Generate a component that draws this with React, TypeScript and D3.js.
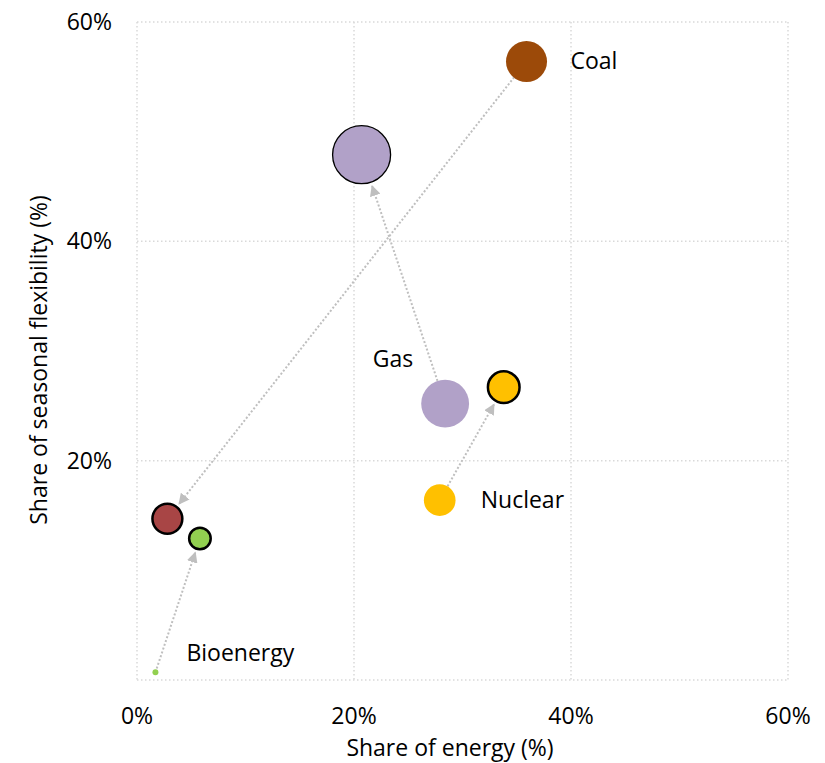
import React from "react";
import * as d3 from "d3";

const categories = ["Bioenergy", "Coal", "Gas", "Nuclear"];
const startEnergy = [1.7, 35.9, 28.4, 27.9];
const startFlex = [0.7, 56.4, 25.2, 16.4];
const startSize = [1, 47, 64, 28];
const endEnergy = [5.8, 2.8, 20.7, 33.8];
const endFlex = [12.9, 14.7, 47.9, 26.7];
const endSize = [13, 25, 94, 28];
const startColors = ["#92d050", "#9c4a09", "#b1a1c8", "#ffc000"];
const endColors = ["#92d050", "#a84545", "#b1a1c8", "#ffc000"];
const xTicks = [0, 20, 40, 60];
const yTicks = [20, 40, 60];
const gridTicks = [0, 20, 40, 60];

const W = 825;
const H = 763;
const FONT = "'Open Sans', 'Noto Sans', sans-serif";
const FS = 23;

export default function App() {
  const x = d3.scaleLinear().domain([0, 60]).range([137, 788]);
  const y = d3.scaleLinear().domain([0, 60]).range([680, 22]);
  const r = d3.scaleSqrt().domain([0, 94]).range([0, 29]);

  const labelPos: Record<string, { dx: number; dy: number; anchor: string }> = {
    Bioenergy: { dx: 31, dy: -19, anchor: "start" },
    Coal: { dx: 44, dy: 0, anchor: "start" },
    Gas: { dx: -32, dy: -45, anchor: "end" },
    Nuclear: { dx: 41, dy: 0, anchor: "start" },
  };

  return (
    <svg width={W} height={H} style={{ position: "absolute", left: 0, top: 0, background: "#fff" }}>
      <defs>
        <marker id="arr" viewBox="0 0 10 10" refX="9" refY="5" markerWidth="5.5" markerHeight="5.5" orient="auto">
          <path d="M0,0 L10,5 L0,10 z" fill="#bfbfbf" />
        </marker>
      </defs>
      {gridTicks.map((t) => (
        <line key={"gx" + t} x1={x(t)} x2={x(t)} y1={y(60)} y2={y(0)} stroke="#d9d9d9" strokeWidth={1.5} strokeDasharray="1.5 2.5" />
      ))}
      {gridTicks.map((t) => (
        <line key={"gy" + t} x1={x(0)} x2={x(60)} y1={y(t)} y2={y(t)} stroke="#d9d9d9" strokeWidth={1.5} strokeDasharray="1.5 2.5" />
      ))}
      {xTicks.map((t) => (
        <text key={"xt" + t} x={x(t)} y={724} textAnchor="middle" fontFamily={FONT} fontSize={FS} fill="#000">
          {t + "%"}
        </text>
      ))}
      {yTicks.map((t) => (
        <text key={"yt" + t} x={112} y={y(t) + 8} textAnchor="end" fontFamily={FONT} fontSize={FS} fill="#000">
          {t + "%"}
        </text>
      ))}
      <text x={450} y={756} textAnchor="middle" fontFamily={FONT} fontSize={FS} fill="#000">
        Share of energy (%)
      </text>
      <text transform={`translate(47,360) rotate(-90)`} textAnchor="middle" fontFamily={FONT} fontSize={FS} fill="#000">
        Share of seasonal flexibility (%)
      </text>
      {categories.map((c, i) => {
        const x1 = x(startEnergy[i]);
        const y1 = y(startFlex[i]);
        const x2 = x(endEnergy[i]);
        const y2 = y(endFlex[i]);
        const dx = x2 - x1;
        const dy = y2 - y1;
        const len = Math.sqrt(dx * dx + dy * dy);
        const gap = r(endSize[i]) + 4;
        const ex = x2 - (dx / len) * gap;
        const ey = y2 - (dy / len) * gap;
        return (
          <line key={"a" + c} x1={x1} y1={y1} x2={ex} y2={ey} stroke="#bfbfbf" strokeWidth={2} strokeDasharray="2 2" markerEnd="url(#arr)" />
        );
      })}
      {categories.map((c, i) => (
        <circle key={"s" + c} cx={x(startEnergy[i])} cy={y(startFlex[i])} r={r(startSize[i])} fill={startColors[i]} />
      ))}
      {categories.map((c, i) => (
        <circle key={"e" + c} cx={x(endEnergy[i])} cy={y(endFlex[i])} r={r(endSize[i])} fill={endColors[i]} stroke="#000" strokeWidth={i === 2 ? 1.3 : 2.5} />
      ))}
      {categories.map((c, i) => {
        const p = labelPos[c];
        return (
          <text key={"l" + c} x={x(startEnergy[i]) + p.dx} y={y(startFlex[i]) + p.dy + 8} textAnchor={p.anchor} fontFamily={FONT} fontSize={FS} fill="#000">
            {c}
          </text>
        );
      })}
    </svg>
  );
}
